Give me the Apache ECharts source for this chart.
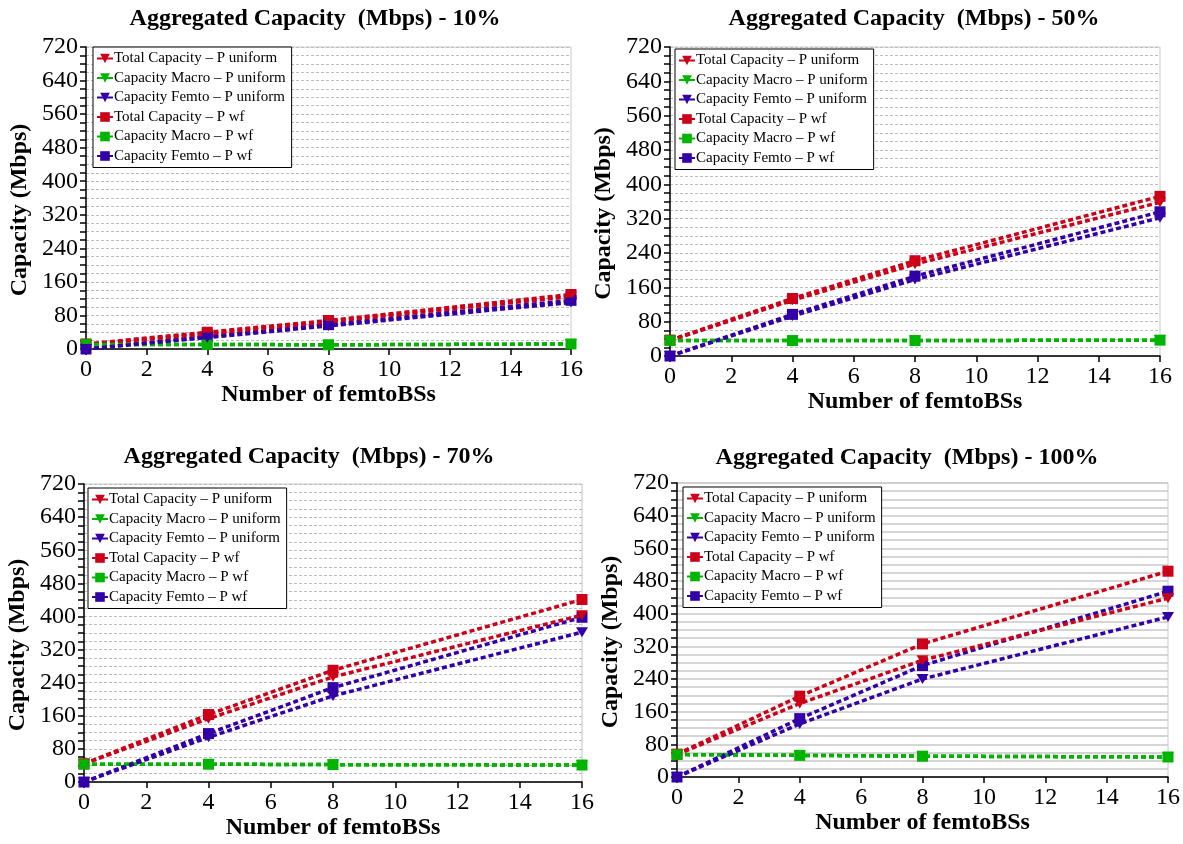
<!DOCTYPE html>
<html>
<head>
<meta charset="utf-8">
<title>Aggregated Capacity</title>
<script src="https://cdn.jsdelivr.net/npm/echarts@6/dist/echarts.min.js"></script>
<style>
  html, body { margin: 0; padding: 0; background: #fff; }
  #main { width: 1183px; height: 844px; }
</style>
</head>
<body>
<div id="main"></div>
<script>
// x values: number of femto base stations
const femtoBSs = [0, 4, 8, 16]
const xTicks = [0, 2, 4, 6, 8, 10, 12, 14, 16]
const yTicks = [0, 80, 160, 240, 320, 400, 480, 560, 640, 720]

const seriesNames = [
  'Total Capacity – P uniform',
  'Capacity Macro – P uniform',
  'Capacity Femto – P uniform',
  'Total Capacity – P wf',
  'Capacity Macro – P wf',
  'Capacity Femto – P wf'
]

// 10%
const load10 = {
  totalUniform: [10, 36, 65, 125],
  macroUniform: [11, 11, 10, 12],
  femtoUniform: [0, 27, 55, 111],
  totalWf: [12, 40, 68, 130],
  macroWf: [11, 11, 10, 12],
  femtoWf: [0, 30, 58, 116]
}
// 50%
const load50 = {
  totalUniform: [36, 130, 214, 358],
  macroUniform: [36, 36, 36, 37],
  femtoUniform: [0, 93, 178, 322],
  totalWf: [37, 134, 222, 372],
  macroWf: [36, 36, 36, 37],
  femtoWf: [0, 97, 186, 336]
}
// 70%
const load70 = {
  totalUniform: [44, 153, 254, 403],
  macroUniform: [43, 43, 42, 41],
  femtoUniform: [0, 108, 208, 362],
  totalWf: [44, 163, 270, 441],
  macroWf: [43, 43, 42, 41],
  femtoWf: [0, 117, 228, 398]
}
// 100%
const load100 = {
  totalUniform: [55, 180, 286, 438],
  macroUniform: [55, 53, 51, 49],
  femtoUniform: [0, 130, 240, 392],
  totalWf: [56, 198, 326, 504],
  macroWf: [55, 53, 51, 49],
  femtoWf: [0, 143, 273, 455]
}

const panelTitles = [
  'Aggregated Capacity  (Mbps) - 10%',
  'Aggregated Capacity  (Mbps) - 50%',
  'Aggregated Capacity  (Mbps) - 70%',
  'Aggregated Capacity  (Mbps) - 100%'
]
const panelData = [load10, load50, load70, load100]

const RED = '#cc0018'
const GREEN = '#00b400'
const PURPLE = '#3300a8'
const FONT = '"Liberation Serif", "Times New Roman", serif'

// layout of the four panels
const grids = [
  { left: 86, top: 47, width: 485, height: 302 },
  { left: 670, top: 47, width: 490, height: 309 },
  { left: 84, top: 484, width: 498, height: 298 },
  { left: 677, top: 483, width: 492, height: 294 }
]
const titlePos = [[315, 7], [914, 7], [309, 445], [907, 446]]
const legendPos = [[93, 47], [675, 49], [88, 488], [683, 487]]

const keys = ['totalUniform', 'macroUniform', 'femtoUniform', 'totalWf', 'macroWf', 'femtoWf']
const colors = [RED, GREEN, PURPLE, RED, GREEN, PURPLE]

function pairs (values) {
  return femtoBSs.map((x, i) => [x, values[i]])
}

const option = {
  backgroundColor: '#fff',
  animation: false,
  textStyle: { fontFamily: FONT },
  grid: [],
  xAxis: [],
  yAxis: [],
  legend: [],
  series: [],
  graphic: []
}

grids.forEach((g, p) => {
  const solidGrid = p === 3
  option.grid.push({
    left: g.left, top: g.top, width: g.width, height: g.height,
    show: true, borderColor: '#c8c8c8', borderWidth: 1
  })
  option.xAxis.push({
    type: 'value',
    gridIndex: p,
    min: xTicks[0],
    max: xTicks[xTicks.length - 1],
    interval: xTicks[1] - xTicks[0],
    name: 'Number of femtoBSs',
    nameLocation: 'middle',
    nameGap: 34,
    nameTextStyle: { fontFamily: FONT, fontSize: 24, fontWeight: 'bold', color: '#000' },
    axisLine: { onZero: false, lineStyle: { color: '#000', width: 1.5 } },
    axisTick: { show: true, length: 6, lineStyle: { color: '#000', width: 1.5 } },
    axisLabel: { fontFamily: FONT, fontSize: 24, color: '#000', margin: 9 },
    splitLine: { show: false }
  })
  option.yAxis.push({
    type: 'value',
    gridIndex: p,
    min: yTicks[0],
    max: yTicks[yTicks.length - 1],
    interval: yTicks[1] - yTicks[0],
    name: 'Capacity (Mbps)',
    nameLocation: 'middle',
    nameGap: 54,
    nameTextStyle: { fontFamily: FONT, fontSize: 24, fontWeight: 'bold', color: '#000', padding: [0, 24, 0, 0] },
    axisLine: { show: true, lineStyle: { color: '#000', width: 1.5 } },
    axisTick: { show: true, length: 6, lineStyle: { color: '#000', width: 1.5 } },
    minorTick: { show: true, splitNumber: 4, length: 6, lineStyle: { color: '#000', width: 1.5 } },
    axisLabel: { fontFamily: FONT, fontSize: 24, color: '#000', margin: 8 },
    splitLine: {
      show: true,
      lineStyle: solidGrid ? { color: '#c8c8c8', width: 1.5 } : { color: '#bdbdbd', type: [3, 2] }
    },
    minorSplitLine: {
      show: true,
      lineStyle: solidGrid ? { color: '#c8c8c8', width: 1.5 } : { color: '#bdbdbd', type: [3, 2] }
    }
  })
  option.legend.push({
    data: seriesNames,
    orient: 'vertical',
    left: legendPos[p][0],
    top: legendPos[p][1],
    backgroundColor: '#fff',
    borderColor: '#000',
    borderWidth: 1,
    borderRadius: 0,
    padding: [4, 6, 4, 3],
    itemGap: 4.5,
    itemWidth: 16,
    itemHeight: 12,
    selectedMode: false,
    lineStyle: { type: 'solid', width: 2 },
    textStyle: { fontFamily: FONT, fontSize: 15, color: '#000', padding: [0, 0, 0, -4] }
  })
  option.graphic.push({
    type: 'text',
    x: titlePos[p][0],
    y: titlePos[p][1],
    style: {
      text: panelTitles[p],
      font: 'bold 24px ' + FONT,
      fill: '#000',
      textAlign: 'center',
      textVerticalAlign: 'top'
    }
  })
  keys.forEach((k, s) => {
    const uniform = s < 3
    option.series.push({
      name: seriesNames[s],
      type: 'line',
      xAxisIndex: p,
      yAxisIndex: p,
      data: pairs(panelData[p][k]),
      color: colors[s],
      symbol: uniform ? 'triangle' : 'rect',
      symbolRotate: uniform ? 180 : 0,
      symbolSize: uniform ? [12, 10] : 11,
      lineStyle: { color: colors[s], width: 3.5, type: [5, 3] },
      itemStyle: { color: colors[s] },
      z: uniform ? 3 : 2
    })
  })
})

const myChart = echarts.init(document.getElementById('main'), null, { renderer: 'canvas' })
myChart.setOption(option)
</script>
</body>
</html>
